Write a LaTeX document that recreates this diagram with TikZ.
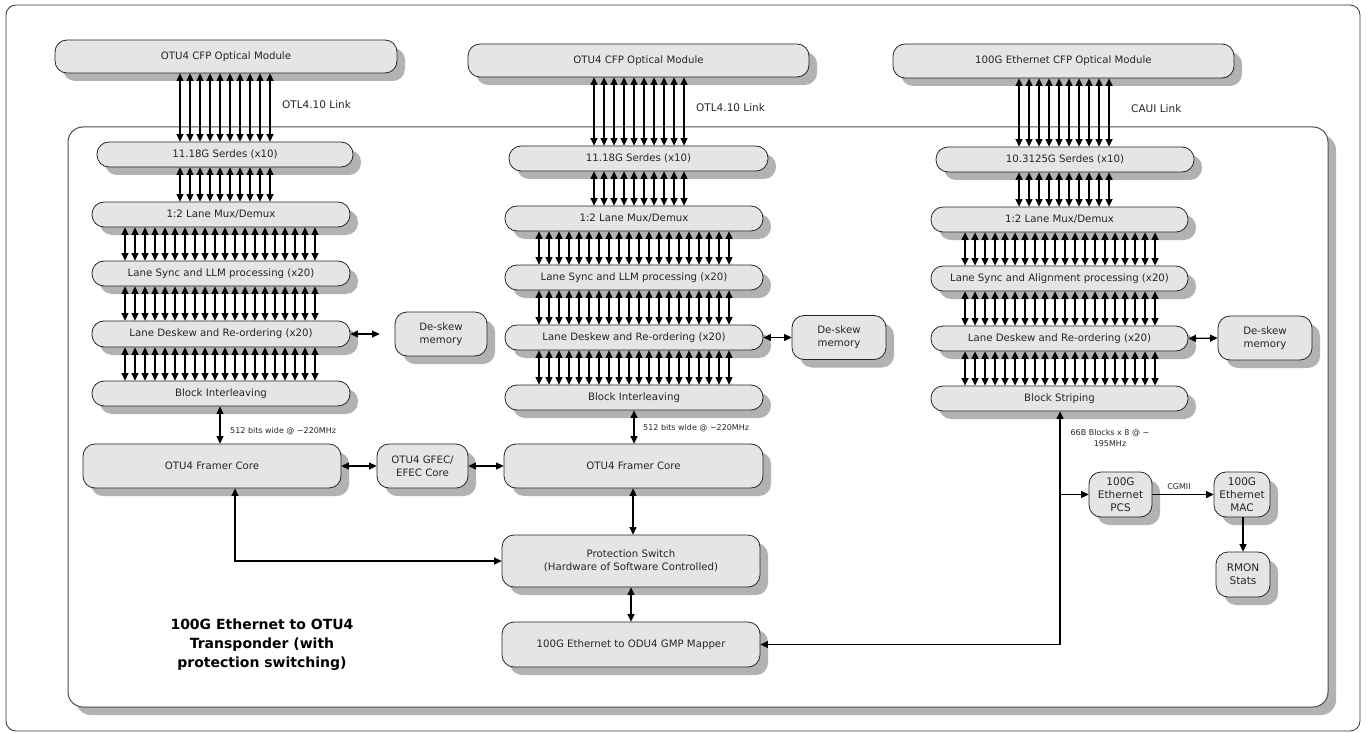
\documentclass[tikz,border=0pt]{standalone}
\usepackage{fontspec}
\setmainfont{DejaVu Sans}
\usetikzlibrary{arrows.meta,shadows}

% a bundle of parallel two-way lanes between two stacked blocks
\newcommand\lanebus[5]{%
  \foreach \k [evaluate=\k as \xx using #3+#4*\k] in {0,...,#5}
    {\draw[bus] (#1.south -| \xx,0) -- (#2.north -| \xx,0);}}

\begin{document}
\begin{tikzpicture}[x=1pt,y=-1pt,
  shade8/.style={drop shadow={shadow xshift=8pt,shadow yshift=-8pt,fill=black!30,opacity=1}},
  box/.style={draw=black!85,line width=0.8pt,fill=black!10,rounded corners=12pt,
    text=black!85,font=\fontsize{10.2}{13}\selectfont,align=center,inner sep=0pt,shade8},
  sz/.style 2 args={minimum width=#1,minimum height=#2},
  bus/.style={line width=1.3pt,{Triangle[length=7.5pt,width=7pt]}-{Triangle[length=7.5pt,width=7pt]}},
  one/.style={line width=1.3pt,-{Triangle[length=7.5pt,width=7pt]}},
  lab/.style={text=black!85,inner sep=0pt,font=\fontsize{8}{11.5}\selectfont},
  linklab/.style={text=black!85,inner sep=0pt,anchor=west,font=\fontsize{10.5}{12}\selectfont},
]
\useasboundingbox (0,0) rectangle (1366,733);

% outer frame and the transponder card
\draw[black!80,line width=0.8pt,rounded corners=10pt] (6,5) rectangle (1360,731);
\draw[black!70,line width=1pt,fill=white,rounded corners=15pt,shade8] (68,127) rectangle (1328,707);

% ---------------- left line side ----------------
\node[box,sz={342pt}{33pt}] (mL) at (226,56.5) {OTU4 CFP Optical Module};
\node[box,sz={256pt}{25pt}] (sL) at (225,154.5) {11.18G Serdes (x10)};
\node[box,sz={258pt}{25pt}] (xL) at (221,214.5) {1:2 Lane Mux/Demux};
\node[box,sz={258pt}{25pt}] (yL) at (221,273.5) {Lane Sync and LLM processing (x20)};
\node[box,sz={258pt}{26pt}] (dL) at (221,334) {Lane Deskew and Re-ordering (x20)};
\node[box,sz={258pt}{25pt}] (bL) at (221,393.5) {Block Interleaving};
\node[box,sz={258pt}{44pt}] (fL) at (212,466) {OTU4 Framer Core};
\node[box,sz={91pt}{44pt}] (gf) at (422.5,466) {OTU4 GFEC/\\EFEC Core};
\node[box,sz={92pt}{44pt}] (memL) at (441,334) {De-skew\\memory};

% ---------------- middle line side ----------------
\node[box,sz={341pt}{33pt}] (mM) at (638.5,60.5) {OTU4 CFP Optical Module};
\node[box,sz={259pt}{25pt}] (sM) at (638.5,158.5) {11.18G Serdes (x10)};
\node[box,sz={258pt}{25pt}] (xM) at (634,218.5) {1:2 Lane Mux/Demux};
\node[box,sz={258pt}{25pt}] (yM) at (634,277.5) {Lane Sync and LLM processing (x20)};
\node[box,sz={258pt}{25pt}] (dM) at (634,337.5) {Lane Deskew and Re-ordering (x20)};
\node[box,sz={258pt}{25pt}] (bM) at (634,397.5) {Block Interleaving};
\node[box,sz={259pt}{44pt}] (fM) at (633.5,466) {OTU4 Framer Core};
\node[box,sz={94pt}{44pt}] (memM) at (839,337.5) {De-skew\\memory};
\node[box,sz={258pt}{52pt}] (psw) at (631,561) {Protection Switch\\(Hardware of Software Controlled)};
\node[box,sz={258pt}{45pt}] (map) at (631,644.5) {100G Ethernet to ODU4 GMP Mapper};

% ---------------- client side ----------------
\node[box,sz={341pt}{34pt}] (mR) at (1063.5,61) {100G Ethernet CFP Optical Module};
\node[box,sz={258pt}{25pt}] (sR) at (1065,159.5) {10.3125G Serdes (x10)};
\node[box,sz={257pt}{25pt}] (xR) at (1059.5,219.5) {1:2 Lane Mux/Demux};
\node[box,sz={257pt}{25pt}] (yR) at (1059.5,278.5) {Lane Sync and Alignment processing (x20)};
\node[box,sz={257pt}{25pt}] (dR) at (1059.5,338.5) {Lane Deskew and Re-ordering (x20)};
\node[box,sz={257pt}{25pt}] (bR) at (1059.5,398.5) {Block Striping};
\node[box,sz={94pt}{44pt}] (memR) at (1265,338) {De-skew\\memory};
\node[box,sz={63pt}{45pt},font=\fontsize{10.5}{13}\selectfont] (pcs) at (1120.5,494.5) {100G\\Ethernet\\PCS};
\node[box,sz={56pt}{45pt},font=\fontsize{10.5}{13}\selectfont] (mac) at (1242,494.5) {100G\\Ethernet\\MAC};
\node[box,sz={54pt}{45pt},font=\fontsize{10.5}{13}\selectfont] (rmon) at (1243,574.5) {RMON\\Stats};

% ---------------- lane bundles ----------------
\lanebus{mL}{sL}{180}{10}{9}
\lanebus{sL}{xL}{180}{10}{9}
\lanebus{xL}{yL}{125}{10}{19}
\lanebus{yL}{dL}{125}{10}{19}
\lanebus{dL}{bL}{125}{10}{19}

\lanebus{mM}{sM}{594}{10}{9}
\lanebus{sM}{xM}{594}{10}{9}
\lanebus{xM}{yM}{539}{10}{19}
\lanebus{yM}{dM}{539}{10}{19}
\lanebus{dM}{bM}{539}{10}{19}

\lanebus{mR}{sR}{1019}{10}{9}
\lanebus{sR}{xR}{1019}{10}{9}
\lanebus{xR}{yR}{965}{10}{19}
\lanebus{yR}{dR}{965}{10}{19}
\lanebus{dR}{bR}{965}{10}{19}

\node[linklab] (lkL) at (282,105) {OTL4.10 Link};
\node[linklab] (lkM) at (696,108) {OTL4.10 Link};
\node[linklab] (lkR) at (1131,109) {CAUI Link};

% ---------------- single connectors ----------------
\draw[bus,shorten >=15pt] (dL.east) -- (memL.west);
\draw[bus] (dM.east) -- (memM.west);
\draw[bus] (dR.east) -- (memR.west);

\draw[bus] (bL.south -| 220,0) -- (fL.north -| 220,0);
\node[lab,anchor=west] (wL) at (230,431) {512 bits wide @ \textasciitilde220MHz};
\draw[bus] (bM.south -| 634,0) -- (fM.north -| 634,0);
\node[lab,anchor=west] (wM) at (643,428) {512 bits wide @ \textasciitilde220MHz};

\draw[bus] (fL.east) -- (gf.west);
\draw[bus] (gf.east) -- (fM.west);
\draw[bus] (fL.south -| 235,0) |- (psw.west);
\draw[bus] (fM.south -| 633,0) -- (psw.north -| 633,0);
\draw[bus] (psw.south -| 631,0) -- (map.north -| 631,0);

\draw[bus] (bR.south -| 1060,0) |- (map.east);
\node[lab,align=center] (wR) at (1110,438) {66B Blocks x 8 @ \textasciitilde\\195MHz};
\coordinate (br) at (1060,494.5);
\draw[one] (br) -- (pcs.west);
\draw[one] (pcs.east) -- (mac.west);
\node[lab,anchor=south] (cg) at (1179,490) {CGMII};
\draw[one] (mac.south -| 1243,0) -- (rmon.north -| 1243,0);

% caption
\node[text=black,align=center,font=\bfseries\fontsize{14}{19}\selectfont] (ttl) at (262,645)
  {100G Ethernet to OTU4\\Transponder (with\\protection switching)};
\end{tikzpicture}
\end{document}
